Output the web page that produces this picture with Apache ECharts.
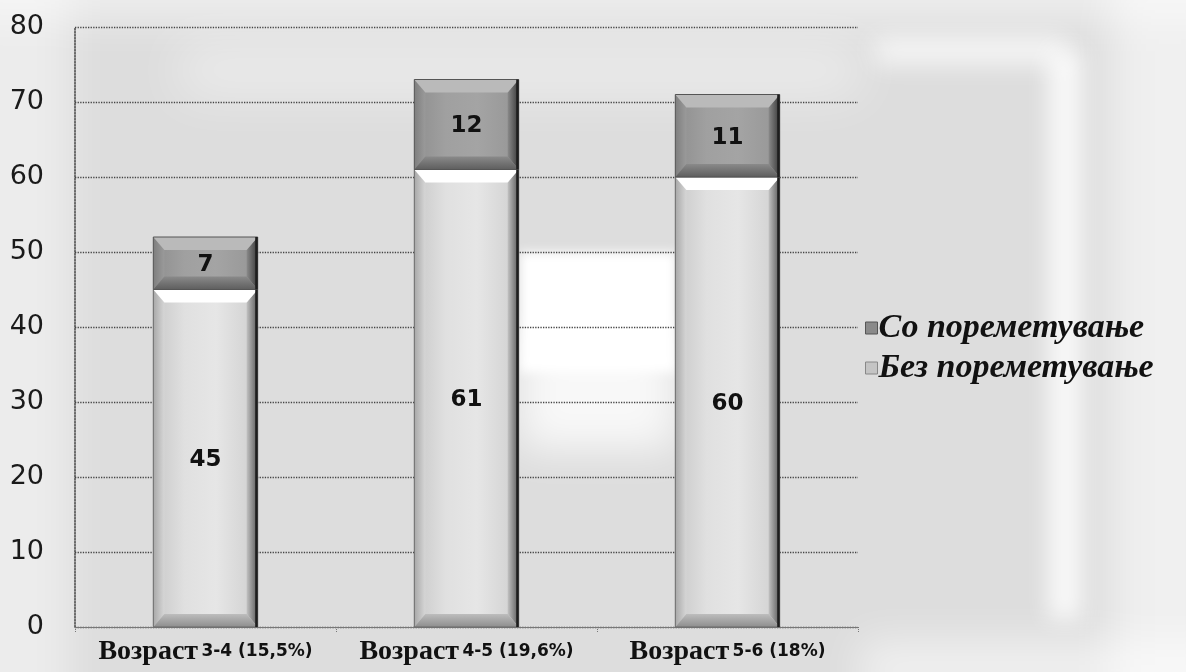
<!DOCTYPE html>
<html>
<head>
<meta charset="utf-8">
<script src="https://cdn.jsdelivr.net/npm/echarts@6/dist/echarts.min.js"></script>
<style>
html,body{margin:0;padding:0;background:#dedede;}
#chart{width:1186px;height:672px;}
</style>
</head>
<body>
<div id="chart"></div>
<script>
// Age groups with share of children with a disorder
const categories = ['3-4', '4-5', '5-6'];
const shares = ['(15,5%)', '(19,6%)', '(18%)'];
const withoutDisorder = [45, 61, 60];
const withDisorder = [7, 12, 11];
const yTicks = [0, 10, 20, 30, 40, 50, 60, 70, 80];

const chart = echarts.init(document.getElementById('chart'));
const G = echarts.graphic;

// Bevelled stack segment: face + four chamfered edges
const palettes = {
  light: {
    face: ['#c8c8c8', '#e0e0e0', '#e6e6e6', '#cfcfcf'],
    top: '#ffffff', bottom: ['#bdbdbd', '#8e8e8e'], left: ['#a8a8a8', '#d6d6d6'],
    right: ['#c2c2c2', '#5a5a5a'], edge: '#1e1e1e', outline: '#6a6a6a'
  },
  dark: {
    face: ['#8e8e8e', '#a0a0a0', '#a4a4a4', '#969696'],
    top: '#bababa', bottom: ['#8a8a8a', '#5e5e5e'], left: ['#7e7e7e', '#9a9a9a'],
    right: ['#8a8a8a', '#3a3a3a'], edge: '#1e1e1e', outline: '#555555'
  }
};

function makeRender(pal) {
  return function (params, api) {
    const idx = api.value(0);
    const p0 = api.coord([idx, api.value(1)]);
    const p1 = api.coord([idx, api.value(2)]);
    const w = api.size([1, 0])[0] * 0.4;
    const x0 = p0[0] - w / 2, x1 = p0[0] + w / 2;
    const yb = p0[1], yt = p1[1];
    const h = yb - yt;
    const b = Math.min(13, h / 3.2);
    const bx = b * 0.85;
    const poly = (pts, fill) => ({ type: 'polygon', shape: { points: pts }, style: { fill: fill } });
    const hGrad = (c) => new G.LinearGradient(0, 0, 1, 0, [{ offset: 0, color: c[0] }, { offset: 1, color: c[1] }]);
    const vGrad = (c) => new G.LinearGradient(0, 0, 0, 1, [{ offset: 0, color: c[0] }, { offset: 1, color: c[1] }]);
    return {
      type: 'group',
      children: [
        {
          type: 'rect',
          shape: { x: x0, y: yt, width: w, height: h },
          style: {
            fill: new G.LinearGradient(0, 0, 1, 0, [
              { offset: 0, color: pal.face[0] },
              { offset: 0.3, color: pal.face[1] },
              { offset: 0.6, color: pal.face[2] },
              { offset: 1, color: pal.face[3] }
            ])
          }
        },
        poly([[x0, yt], [x0 + bx, yt + b], [x0 + bx, yb - b], [x0, yb]], hGrad(pal.left)),
        poly([[x1, yt], [x1 - bx, yt + b], [x1 - bx, yb - b], [x1, yb]], hGrad(pal.right)),
        poly([[x0, yt], [x1, yt], [x1 - bx, yt + b], [x0 + bx, yt + b]], pal.top),
        poly([[x0, yb], [x1, yb], [x1 - bx, yb - b], [x0 + bx, yb - b]], vGrad(pal.bottom)),
        {
          type: 'rect',
          shape: { x: x0, y: yt, width: w, height: h },
          style: { fill: 'none', stroke: pal.outline, lineWidth: 1 }
        },
        {
          type: 'rect',
          shape: { x: x1 - 2.5, y: yt, width: 2.5, height: h },
          style: { fill: pal.edge }
        },
        {
          type: 'text',
          z2: 10,
          style: {
            text: String(api.value(3)),
            x: (x0 + x1) / 2,
            y: (yt + yb) / 2 + 2,
            align: 'center',
            verticalAlign: 'middle',
            fill: '#111',
            font: 'bold 23px "DejaVu Sans"'
          }
        }
      ]
    };
  };
}

const lowerData = withoutDisorder.map((v, i) => [i, 0, v, v]);
const upperData = withDisorder.map((v, i) => [i, withoutDisorder[i], withoutDisorder[i] + v, v]);

// Soft-edged light patch for the paper-like backdrop: the shape sits off-canvas
// and only its blurred shadow is shifted into view.
const OFF = 4000;
function soft(x, y, w, h, alpha, blur) {
  return {
    type: 'rect', silent: true, z: -10,
    shape: { x: x - OFF, y: y, width: w, height: h },
    style: {
      fill: '#fff',
      shadowColor: 'rgba(255,255,255,' + alpha + ')',
      shadowBlur: blur,
      shadowOffsetX: OFF
    }
  };
}

chart.setOption({
  backgroundColor: '#dddddd',
  animation: false,
  graphic: [
    soft(-40, -40, 110, 760, 0.45, 40),
    soft(-40, -60, 1280, 80, 0.5, 40),
    soft(180, 45, 680, 50, 0.45, 50),
    soft(520, 252, 156, 120, 1, 10),
    soft(520, 330, 156, 120, 0.8, 40),
    soft(875, 38, 190, 26, 0.75, 24),
    soft(1048, 50, 34, 570, 0.8, 22),
    soft(1110, -40, 120, 760, 0.55, 40),
    soft(860, 640, 400, 60, 0.55, 40)
  ],
  grid: { left: 75, right: 328, top: 27, bottom: 45 },
  legend: {
    orient: 'vertical',
    left: 860,
    top: 306,
    itemWidth: 12,
    itemHeight: 12,
    itemGap: 6,
    icon: 'rect',
    data: [
      { name: 'Со пореметување', itemStyle: { color: '#8a8a8a', borderColor: '#555', borderWidth: 1 } },
      { name: 'Без пореметување', itemStyle: { color: '#c4c4c4', borderColor: '#888', borderWidth: 1 } }
    ],
    textStyle: {
      color: '#111',
      fontFamily: 'Liberation Serif',
      fontStyle: 'italic',
      fontWeight: 'bold',
      fontSize: 34,
      padding: [0, 0, 0, -4]
    }
  },
  xAxis: {
    type: 'category',
    data: categories.map((c, i) => c + ' ' + shares[i]),
    axisLine: { show: true, lineStyle: { color: '#777', width: 1 } },
    axisTick: { show: true, length: 5, lineStyle: { color: '#777', type: 'dotted' } },
    axisLabel: {
      margin: 11,
      formatter: (v, i) => '{a|Возраст} {b|' + categories[i] + ' ' + shares[i] + '}',
      rich: {
        a: { fontFamily: 'Liberation Serif', fontWeight: 'bold', fontSize: 28, color: '#111' },
        b: { fontFamily: 'DejaVu Sans', fontWeight: 'bold', fontSize: 17, color: '#111' }
      }
    }
  },
  yAxis: {
    type: 'value',
    min: 0,
    max: yTicks[yTicks.length - 1],
    interval: yTicks[1] - yTicks[0],
    axisLine: { show: true, lineStyle: { color: '#444', type: 'dotted', width: 1.5 } },
    axisTick: { show: false },
    axisLabel: {
      margin: 31,
      color: '#1a1a1a',
      fontFamily: 'DejaVu Sans',
      fontSize: 27
    },
    splitLine: { show: true, lineStyle: { color: '#444', type: 'dotted', width: 1.3 } }
  },
  series: [
    {
      name: 'Без пореметување',
      type: 'custom',
      renderItem: makeRender(palettes.light),
      encode: { x: 0, y: [1, 2] },
      itemStyle: { color: '#c4c4c4' },
      data: lowerData
    },
    {
      name: 'Со пореметување',
      type: 'custom',
      renderItem: makeRender(palettes.dark),
      encode: { x: 0, y: [1, 2] },
      itemStyle: { color: '#8a8a8a' },
      data: upperData
    }
  ]
});
</script>
</body>
</html>
